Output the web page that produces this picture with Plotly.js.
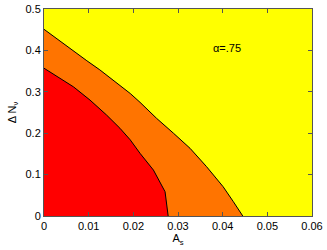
<!DOCTYPE html>
<html>
<head>
<meta charset="utf-8">
<script src="https://cdn.plot.ly/plotly-3.0.1.min.js"></script>
<style>html,body{margin:0;padding:0;background:#fff;}#chart{width:327px;height:250px;}</style>
</head>
<body>
<div id="chart"></div>
<script>
// Outer contour (orange / yellow boundary)
const outerX = [0, 0.0066, 0.0096, 0.0125, 0.0155, 0.0193, 0.0215, 0.0252, 0.0290, 0.0327, 0.0364, 0.0401, 0.0424, 0.0445];
const outerY = [0.451, 0.398, 0.375, 0.353, 0.3285, 0.296, 0.2746, 0.236, 0.1998, 0.1635, 0.1191, 0.0708, 0.0345, 0];
// Inner contour (red / orange boundary)
const innerX = [0, 0.0066, 0.0103, 0.0140, 0.0170, 0.0193, 0.0215, 0.0245, 0.0271, 0.0278];
const innerY = [0.357, 0.312, 0.280, 0.244, 0.212, 0.184, 0.1514, 0.111, 0.0587, 0];
const xTicks = [0, 0.01, 0.02, 0.03, 0.04, 0.05, 0.06];
const xTickText = ["0", "0.01", "0.02", "0.03", "0.04", "0.05", "0.06"];
const yTicks = [0, 0.1, 0.2, 0.3, 0.4, 0.5];
const yTickText = ["0", "0.1", "0.2", "0.3", "0.4", "0.5"];
const labelText = "α=.75";

const font = {family: "Liberation Sans, Arial, sans-serif", size: 11, color: "#000"};

const traces = [
  {x: outerX, y: outerY, type: "scatter", mode: "lines", fill: "tozeroy",
   fillcolor: "#ff7400", line: {color: "#000", width: 1}, hoverinfo: "skip"},
  {x: innerX, y: innerY, type: "scatter", mode: "lines", fill: "tozeroy",
   fillcolor: "#ff0000", line: {color: "#000", width: 1}, hoverinfo: "skip"}
];

const axisCommon = {
  showgrid: false, zeroline: false, showline: true, linecolor: "#555", linewidth: 1,
  mirror: "ticks", ticks: "inside", ticklen: 4, tickcolor: "#555", tickfont: font
};

const layout = {
  width: 327, height: 250,
  margin: {l: 44, r: 15, t: 9, b: 34},
  paper_bgcolor: "#fff", plot_bgcolor: "#ffff00",
  showlegend: false,
  font: font,
  xaxis: Object.assign({}, axisCommon, {
    range: [0, 0.06], tickvals: xTicks, ticktext: xTickText,
    title: {text: "A<sub>s</sub>", font: font, standoff: 2}
  }),
  yaxis: Object.assign({}, axisCommon, {
    range: [0, 0.5], tickvals: yTicks, ticktext: yTickText,
    title: {text: "Δ N<sub>ν</sub>", font: font, standoff: 6}
  }),
  annotations: [{x: 0.0409, y: 0.407, xref: "x", yref: "y", text: labelText,
    showarrow: false, font: font}]
};

Plotly.newPlot("chart", traces, layout, {displayModeBar: false, staticPlot: true});
</script>
</body>
</html>
